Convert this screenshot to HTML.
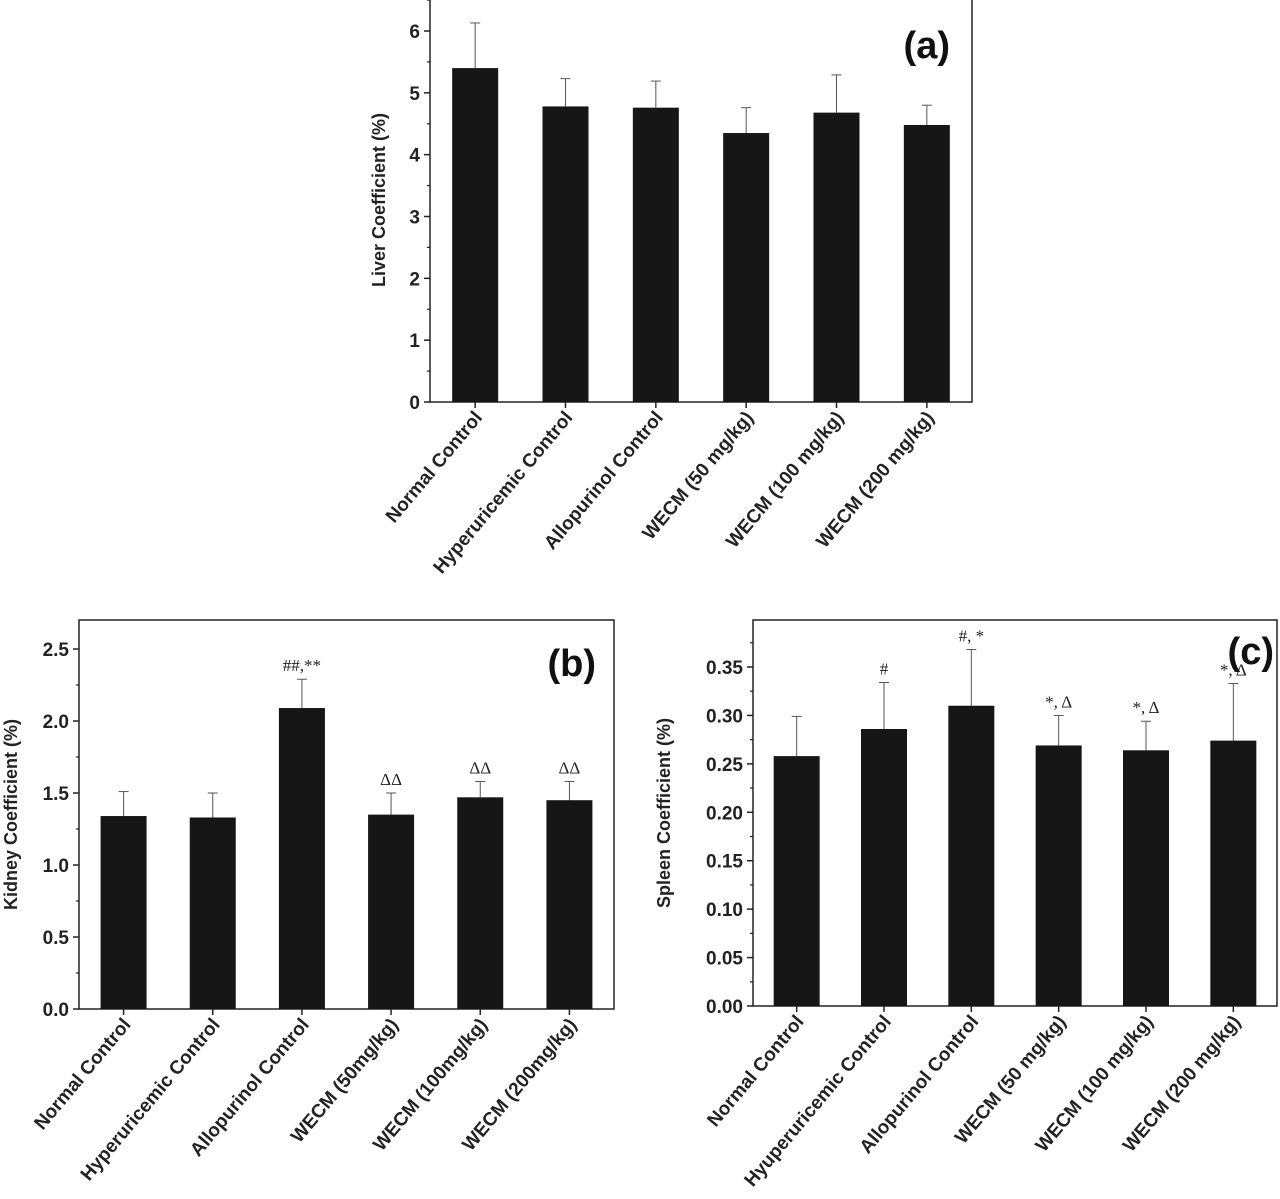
<!DOCTYPE html>
<html><head><meta charset="utf-8"><style>
body{margin:0;background:#fff;}
svg{display:block;font-family:"Liberation Sans",Arial,sans-serif;}
.tk{font-size:19px;font-weight:bold;fill:#222;}
.cat{font-size:19px;font-weight:bold;fill:#222;}
.yt{font-size:18px;font-weight:bold;fill:#222;}
.pl{font-size:38px;font-weight:bold;fill:#111;}
.an{font-family:"Liberation Serif",serif;font-size:17px;fill:#222;}
</style></head><body>
<svg id="chart" width="1280" height="1199" viewBox="0 0 1280 1199"></svg>
<script>
// Panel (a) data
const catsA=["Normal Control","Hyperuricemic Control","Allopurinol Control","WECM (50 mg/kg)","WECM (100 mg/kg)","WECM (200 mg/kg)"];
const valsA=[5.40,4.78,4.76,4.35,4.68,4.48];
const errA=[6.13,5.23,5.19,4.76,5.29,4.80];
const ticksA=["0","1","2","3","4","5","6"];
// Panel (b) data
const catsB=["Normal Control","Hyperuricemic Control","Allopurinol Control","WECM (50mg/kg)","WECM (100mg/kg)","WECM (200mg/kg)"];
const valsB=[1.34,1.33,2.09,1.35,1.47,1.45];
const errB=[1.51,1.50,2.29,1.50,1.58,1.58];
const annB=["","","##,**","ΔΔ","ΔΔ","ΔΔ"];
const ticksB=["0.0","0.5","1.0","1.5","2.0","2.5"];
// Panel (c) data
const catsC=["Normal Control","Hyuperuricemic Control","Allopurinol Control","WECM (50 mg/kg)","WECM (100 mg/kg)","WECM (200 mg/kg)"];
const valsC=[0.258,0.286,0.310,0.269,0.264,0.274];
const errC=[0.299,0.334,0.368,0.300,0.294,0.333];
const annC=["","#","#, *","*, Δ","*, Δ","*, Δ"];
const ticksC=["0.00","0.05","0.10","0.15","0.20","0.25","0.30","0.35"];

const svg=document.getElementById('chart');
const NS='http://www.w3.org/2000/svg';
function mk(tag,at,parent){const e=document.createElementNS(NS,tag);for(const k in at)e.setAttribute(k,at[k]);(parent||svg).appendChild(e);return e;}

function panel(o){
  const g=mk('g',{});
  
  
  const y=v=>o.y0-(v-0)/(o.ymax)*(o.y0-o.yTop);
  const n=o.cats.length, bw=(o.x1-o.x0)/n;
  const x=i=>o.x0+bw*(i+0.5);
  const fr=mk('rect',{x:o.x0,y:o.boxTop,width:o.x1-o.x0,height:o.y0-o.boxTop,fill:'none',stroke:'#222','stroke-width':1.5},g);
  
  
  o.ticks.forEach((t,i)=>{
    const v=parseFloat(t), yy=y(v);
    mk('line',{x1:o.x0-6,x2:o.x0,y1:yy,y2:yy,stroke:'#222','stroke-width':1.5},g);
    const ym=y(v+o.step/2); if(ym>o.boxTop) mk('line',{x1:o.x0-3,x2:o.x0,y1:ym,y2:ym,stroke:'#222','stroke-width':1.2},g);
    const tx=mk('text',{x:o.x0-10,y:yy+7,'text-anchor':'end',class:'tk'},g);tx.textContent=t;
    
    
  });
  o.vals.forEach((v,i)=>{
    const cx=x(i);
    const el=mk('line',{x1:cx,x2:cx,y1:y(o.err[i]),y2:y(v),stroke:'#555','stroke-width':1},g);
    
    
    mk('line',{x1:cx-5,x2:cx+5,y1:y(o.err[i]),y2:y(o.err[i]),stroke:'#555','stroke-width':1},g);
    const b=mk('rect',{x:cx-o.barW/2,y:y(v),width:o.barW,height:o.y0-y(v),fill:'#161616'},g);
    
    
    mk('line',{x1:cx,x2:cx,y1:o.y0,y2:o.y0+6,stroke:'#222','stroke-width':1.5},g);
    if(o.ann&&o.ann[i]){const a=mk('text',{x:cx,y:y(o.err[i])-8,'text-anchor':'middle',class:'an'},g);a.textContent=o.ann[i];
      
      }
    const c=mk('text',{x:0,y:0,'text-anchor':'end',class:'cat',transform:`translate(${cx+8},${o.y0+16}) rotate(-50)`},g);
    c.textContent=o.cats[i];
    
    
  });
  const yt=mk('text',{x:0,y:0,'text-anchor':'middle',class:'yt',transform:`translate(${o.ytX},${(o.y0+o.boxTop)/2}) rotate(-90)`},g);
  yt.textContent=o.ytitle;
  
  
  const pl=mk('text',{x:o.x1-o.plDx,y:o.boxTop+o.plDy,'text-anchor':'end',class:'pl'},g);
  pl.textContent=o.label;
  
  
}
panel({name:'liver-chart',cats:catsA,vals:valsA,err:errA,ticks:ticksA,step:1,x0:430,x1:972,y0:402,yTop:31,ymax:6,boxTop:-2,barW:46,ytX:385,ytitle:'Liver Coefficient (%)',label:'(a)',plDx:22,plDy:60});
panel({name:'kidney-chart',cats:catsB,vals:valsB,err:errB,ann:annB,ticks:ticksB,step:0.5,x0:79,x1:614,y0:1009,yTop:649,ymax:2.5,boxTop:620,barW:46,ytX:17,ytitle:'Kidney Coefficient (%)',label:'(b)',plDx:18,plDy:56});
panel({name:'spleen-chart',cats:catsC,vals:valsC,err:errC,ann:annC,ticks:ticksC,step:0.05,x0:753,x1:1277,y0:1006,yTop:667,ymax:0.35,boxTop:620,barW:46,ytX:670,ytitle:'Spleen Coefficient (%)',label:'(c)',plDx:3,plDy:44});
</script>
</body></html>
